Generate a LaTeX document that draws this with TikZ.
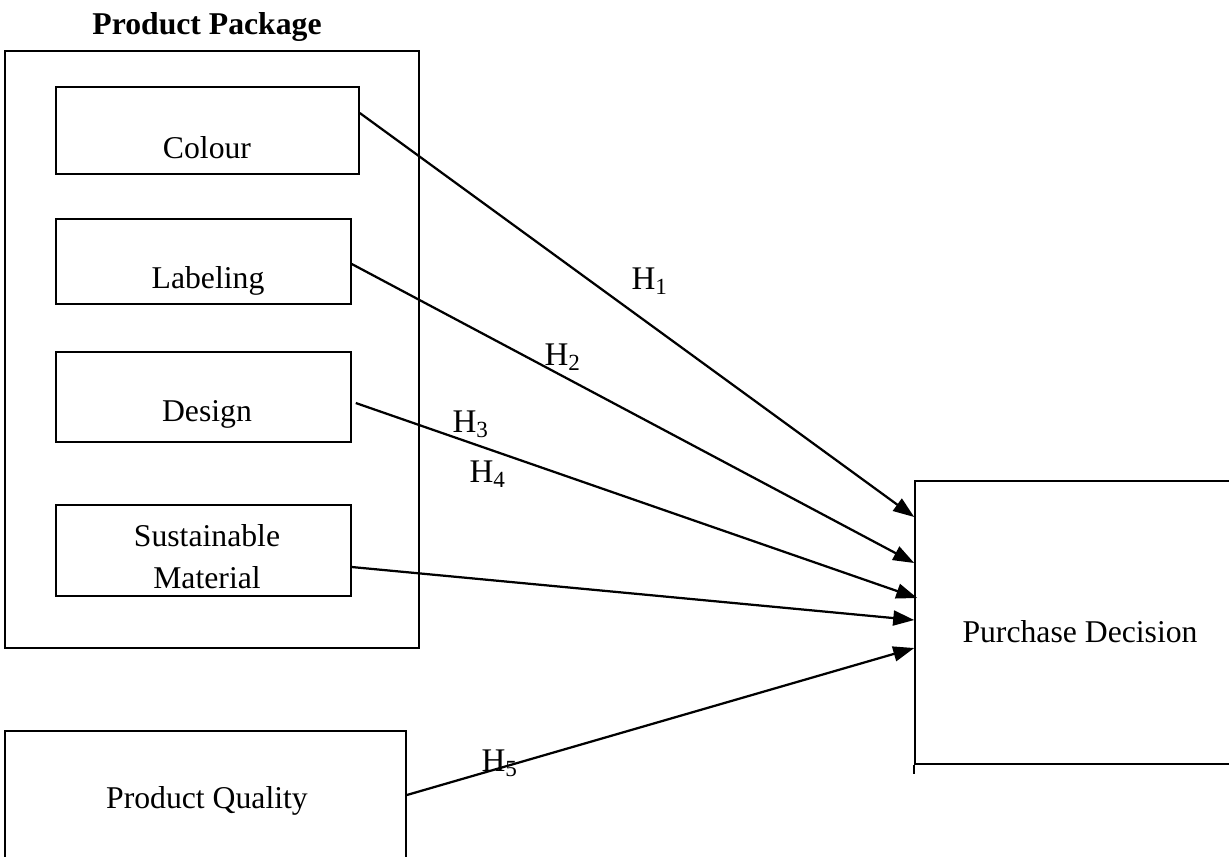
\documentclass[tikz,border=0pt]{standalone}
\usepackage{fontspec}
\setmainfont{Liberation Serif}
\usetikzlibrary{arrows.meta}
\newcommand{\pxu}{0.0133cm}

\tikzset{
  pbox/.style={draw, line width=0.6pt, inner sep=0pt},
  txt/.style={inner sep=0pt, font=\fontsize{12}{16}\selectfont, align=center},
  hyp/.style={inner sep=0pt, font=\fontsize{12.5}{14}\selectfont},
  harrow/.style={line width=0.85pt, -{Triangle[length=21*\pxu, width=15*\pxu]}}
}

\begin{document}
\begin{tikzpicture}[x=\pxu, y=-\pxu]

\useasboundingbox (0,0) rectangle (1229,856);

\node[txt, font=\fontsize{12}{16}\selectfont\bfseries] (title) at (207,27) {Product Package};
\node[pbox, minimum width=414*\pxu, minimum height=597*\pxu] (package) at (212,349.5) {};

\node[pbox, minimum width=303*\pxu, minimum height=87*\pxu] (colour) at (207.5,130.5) {};
\node[pbox, minimum width=295*\pxu, minimum height=85*\pxu] (labeling) at (203.5,261.5) {};
\node[pbox, minimum width=295*\pxu, minimum height=90*\pxu] (design) at (203.5,397) {};
\node[pbox, minimum width=295*\pxu, minimum height=91*\pxu] (material) at (203.5,550.5) {};
\node[pbox, minimum width=401*\pxu, minimum height=149*\pxu] (quality) at (205.5,805.5) {};
\node[pbox, minimum width=325*\pxu, minimum height=283*\pxu] (decision) at (1077.5,622.5) {};

\node[txt] (colourtext) at (207,148) {Colour};
\node[txt] (labelingtext) at (208,281) {Labeling};
\node[txt] (designtext) at (207,414) {Design};
\node[txt] (materialtext) at (207,557) {Sustainable\\Material};
\node[txt] (qualitytext) at (207,801) {Product Quality};
\node[txt] (decisiontext) at (1080,632) {Purchase Decision};

\draw[line width=0.6pt] (decision.south west) -- ([yshift=-9*\pxu]decision.south west);

\draw[harrow] ([yshift=17.5*\pxu]colour.east) -- ([yshift=105.5*\pxu]decision.west);
\draw[harrow] ([yshift=-2.5*\pxu]labeling.east) -- ([yshift=59.5*\pxu]decision.west);
\draw[harrow] ([xshift=4*\pxu, yshift=-6*\pxu]design.east) -- ([xshift=3*\pxu, yshift=24.5*\pxu]decision.west);
\draw[harrow] ([yshift=-16.5*\pxu]material.east) -- ([yshift=2.5*\pxu]decision.west);
\draw[harrow] ([yshift=10.5*\pxu]quality.east) -- ([yshift=-25.5*\pxu]decision.west);

\node[hyp] (h1) at (650,281) {H\textsubscript{1}};
\node[hyp] (h2) at (563,357) {H\textsubscript{2}};
\node[hyp] (h3) at (471,424) {H\textsubscript{3}};
\node[hyp] (h4) at (488,474) {H\textsubscript{4}};
\node[hyp] (h5) at (500,763) {H\textsubscript{5}};

\end{tikzpicture}
\end{document}
